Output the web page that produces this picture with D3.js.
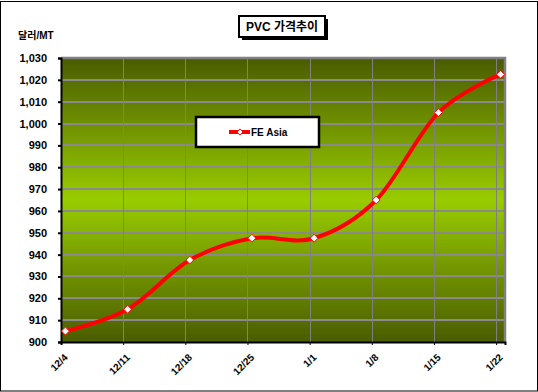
<!DOCTYPE html>
<html>
<head>
<meta charset="utf-8">
<script src="https://cdn.jsdelivr.net/npm/d3@7"></script>
<style>
  html, body { margin: 0; padding: 0; background: #fff; }
  svg { display: block; }
  text { font-family: "Liberation Sans", Arial, "Noto Sans CJK KR", sans-serif; font-weight: bold; }
</style>
</head>
<body>
<script>
// ---- data ----
const title = "PVC 가격추이";
const unitLabel = "달러/MT";
const seriesName = "FE Asia";
const dateLabels = ["12/4", "12/11", "12/18", "12/25", "1/1", "1/8", "1/15", "1/22"];
const prices = [905, 915, 937.5, 947.5, 947.5, 965, 1005, 1022.5];
const yTicks = [900, 910, 920, 930, 940, 950, 960, 970, 980, 990, 1000, 1010, 1020, 1030];

// ---- layout ----
const W = 538, H = 392;
const plot = { left: 61, right: 505, top: 58, bottom: 342 };

const toDate = s => {
  const [m, d] = s.split("/").map(Number);
  return new Date(m === 12 ? 2007 : 2008, m - 1, d);
};
const dates = dateLabels.map(toDate);
const endDate = d3.timeDay.offset(dates[dates.length - 1], 1);
const mid = d => d3.timeHour.offset(d, 12);

const x = d3.scaleTime().domain([dates[0], endDate]).range([plot.left, plot.right]);
const y = d3.scaleLinear().domain([900, 1030]).range([plot.bottom, plot.top]);

const svg = d3.select("body").append("svg").attr("width", W).attr("height", H);

// outer frame
svg.append("rect").attr("x", 0.5).attr("y", 1.5).attr("width", W - 1).attr("height", H - 2.5)
  .attr("fill", "#fff").attr("stroke", "#000").attr("stroke-width", 1);

// gradient
const defs = svg.append("defs");
const grad = defs.append("linearGradient").attr("id", "bg").attr("x1", 0).attr("y1", 0).attr("x2", 0).attr("y2", 1);
grad.append("stop").attr("offset", "0%").attr("stop-color", "#4a5c00");
grad.append("stop").attr("offset", "50%").attr("stop-color", "#99cc00");
grad.append("stop").attr("offset", "100%").attr("stop-color", "#4a5c00");

svg.append("rect").attr("x", plot.left).attr("y", plot.top)
  .attr("width", plot.right - plot.left).attr("height", plot.bottom - plot.top)
  .attr("fill", "url(#bg)");

// horizontal gridlines
svg.append("g").selectAll("line").data(yTicks.slice(1)).join("line")
  .attr("x1", plot.left).attr("x2", plot.right)
  .attr("y1", d => Math.round(y(d))).attr("y2", d => Math.round(y(d)))
  .attr("stroke", "#8a8a8a").attr("stroke-width", 2);

// vertical gridlines
svg.append("g").selectAll("line").data(dates.slice(1)).join("line")
  .attr("x1", d => Math.round(x(d)) + 0.5).attr("x2", d => Math.round(x(d)) + 0.5)
  .attr("y1", plot.top).attr("y2", plot.bottom)
  .attr("stroke", "#808080").attr("stroke-width", 1);

// plot border top/right
svg.append("path")
  .attr("d", `M${plot.left},${plot.top} H${plot.right} V${plot.bottom}`)
  .attr("fill", "none").attr("stroke", "#808080").attr("stroke-width", 2.5);

// axes
const yAxis = d3.axisLeft(y).tickValues(yTicks).tickSize(3).tickPadding(11)
  .tickFormat(d3.format(","));
const gy = svg.append("g").attr("transform", `translate(${plot.left},0)`).call(yAxis);
gy.select(".domain").attr("stroke", "#000").attr("stroke-width", 2);
gy.selectAll(".tick line").attr("stroke", "#000").attr("stroke-width", 2);
gy.selectAll(".tick text").attr("font-size", 11).attr("fill", "#000")
  .style("font-family", "'Liberation Sans', Arial, sans-serif").style("font-weight", "bold");

const xAxis = d3.axisBottom(x).tickValues(dates).tickSize(3).tickFormat(() => "");
const gx = svg.append("g").attr("transform", `translate(0,${plot.bottom})`).call(xAxis);
gx.select(".domain").attr("stroke", "#000").attr("stroke-width", 2);
gx.selectAll(".tick line").attr("stroke", "#000").attr("stroke-width", 1);

// x labels (rotated)
svg.append("g").selectAll("text").data(dates).join("text")
  .attr("transform", d => `translate(${x(mid(d)) + 3},358) rotate(-45)`)
  .attr("text-anchor", "end").attr("font-size", 10).attr("fill", "#000")
  .text((d, i) => dateLabels[i]);

// line
const line = d3.line()
  .x((d, i) => x(mid(dates[i])))
  .y(d => y(d))
  .curve(d3.curveCatmullRom.alpha(0));
svg.append("path").datum(prices).attr("d", line)
  .attr("fill", "none").attr("stroke", "#ff0000").attr("stroke-width", 4)
  .attr("stroke-linejoin", "round").attr("stroke-linecap", "round");

const diamond = d3.symbol().type(d3.symbolDiamond2).size(40);
svg.append("g").selectAll("path").data(prices).join("path")
  .attr("d", diamond)
  .attr("transform", (d, i) => `translate(${x(mid(dates[i]))},${y(d)})`)
  .attr("fill", "#fff").attr("stroke", "#ff0000").attr("stroke-width", 1);

// unit label
svg.append("text").attr("x", 18).attr("y", 39).attr("font-size", 10).attr("fill", "#000")
  .style("font-family", "'Liberation Sans', 'Noto Sans CJK KR', sans-serif")
  .text(unitLabel);

// title box
const tb = { x: 239, y: 16, w: 86, h: 21 };
svg.append("rect").attr("x", tb.x + 3).attr("y", tb.y + 3).attr("width", tb.w).attr("height", tb.h).attr("fill", "#000");
svg.append("rect").attr("x", tb.x).attr("y", tb.y).attr("width", tb.w).attr("height", tb.h)
  .attr("fill", "#fff").attr("stroke", "#000").attr("stroke-width", 2);
svg.append("text").attr("x", tb.x + tb.w / 2).attr("y", tb.y + 15).attr("text-anchor", "middle")
  .attr("font-size", 12).attr("fill", "#000")
  .style("font-family", "'Liberation Sans', 'Noto Sans CJK KR', sans-serif")
  .text(title);

// legend
const lg = { x: 196, y: 117, w: 123, h: 30 };
svg.append("rect").attr("x", lg.x).attr("y", lg.y).attr("width", lg.w).attr("height", lg.h)
  .attr("fill", "#fff").attr("stroke", "#000").attr("stroke-width", 2.5);
svg.append("line").attr("x1", 229).attr("x2", 250).attr("y1", 132).attr("y2", 132)
  .attr("stroke", "#ff0000").attr("stroke-width", 4);
svg.append("path").attr("d", d3.symbol().type(d3.symbolDiamond2).size(24))
  .attr("transform", "translate(240,132)")
  .attr("fill", "#fff").attr("stroke", "#ff0000").attr("stroke-width", 1);
svg.append("text").attr("x", 251).attr("y", 136).attr("font-size", 10).attr("fill", "#000")
  .text(seriesName);
</script>
</body>
</html>
